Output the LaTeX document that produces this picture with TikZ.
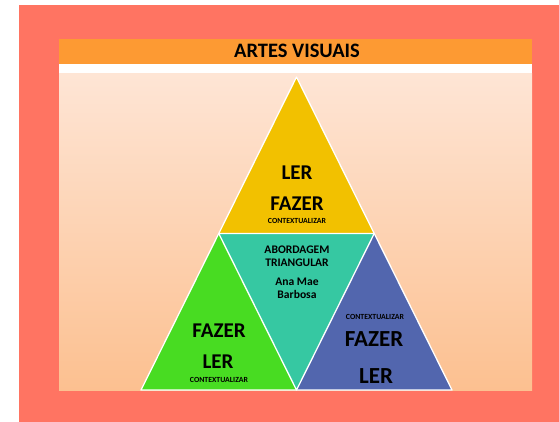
\documentclass[tikz,border=0pt]{standalone}
\usepackage{fontspec}
\setmainfont{Carlito}
\usetikzlibrary{calc}
\definecolor{outerred}{HTML}{FF7462}
\definecolor{barorange}{HTML}{FD9A33}
\definecolor{peachtop}{HTML}{FEE5D5}
\definecolor{peachbot}{HTML}{FCC090}
\definecolor{triyellow}{HTML}{F2C100}
\definecolor{triteal}{HTML}{36C8A2}
\definecolor{trigreen}{HTML}{48DC22}
\definecolor{triblue}{HTML}{5266AE}
\tikzset{
  tri/.style={draw=white, line width=1.3pt, line join=round},
  big/.style={font=\bfseries\fontsize{21}{23}\selectfont, inner sep=0pt},
  bigger/.style={font=\bfseries\fontsize{23}{25}\selectfont, inner sep=0pt},
  tiny/.style={font=\bfseries\fontsize{7.8}{8.5}\selectfont, inner sep=0pt},
  mid/.style={font=\bfseries\fontsize{11.6}{12.8}\selectfont, inner sep=0pt, align=center},
}
\begin{document}
\begin{tikzpicture}[x=1pt,y=-1pt]
\useasboundingbox (0,0) rectangle (559,422);
\fill[white] (0,0) rectangle (559,422);
\fill[outerred] (19,5) rectangle (559,422);
\fill[barorange] (59,39) rectangle (532,64);
\fill[white] (59,64) rectangle (532,74);
\shade[top color=peachtop, bottom color=peachbot] (59,74) rectangle (532,390.5);
\node[font=\bfseries\fontsize{20.5}{22}\selectfont, inner sep=0pt] (title) at (297,51) {ARTES VISUAIS};
% triangle vertices
\coordinate (A) at (296.5,77);
\coordinate (B) at (141,390);
\coordinate (C) at (452,390);
\coordinate (AB) at ($(A)!0.5!(B)$);
\coordinate (AC) at ($(A)!0.5!(C)$);
\coordinate (BC) at ($(B)!0.5!(C)$);
\fill[triyellow] (A) -- (AB) -- (AC) -- cycle;
\fill[triteal] (AB) -- (AC) -- (BC) -- cycle;
\fill[trigreen] (AB) -- (B) -- (BC) -- cycle;
\fill[triblue] (AC) -- (BC) -- (C) -- cycle;
\draw[tri] (A) -- (B) -- (C) -- cycle;
\draw[tri] (AB) -- (AC) -- (BC) -- cycle;
% top texts
\node[big] (t1) at (297,173) {LER};
\node[big] (t2) at (297,204) {FAZER};
\node[tiny] (t3) at (297,221) {CONTEXTUALIZAR};
% middle
\node[mid] (m1) at (297,256) {ABORDAGEM\\TRIANGULAR};
\node[mid] (m2) at (297,288) {Ana Mae\\Barbosa};
% left
\node[big] (l1) at (219,331) {FAZER};
\node[big] (l2) at (218,362) {LER};
\node[tiny] (l3) at (219,380) {CONTEXTUALIZAR};
% right
\node[tiny] (r1) at (375,317) {CONTEXTUALIZAR};
\node[bigger] (r2) at (374,339) {FAZER};
\node[bigger] (r3) at (376,376) {LER};
\end{tikzpicture}
\end{document}
